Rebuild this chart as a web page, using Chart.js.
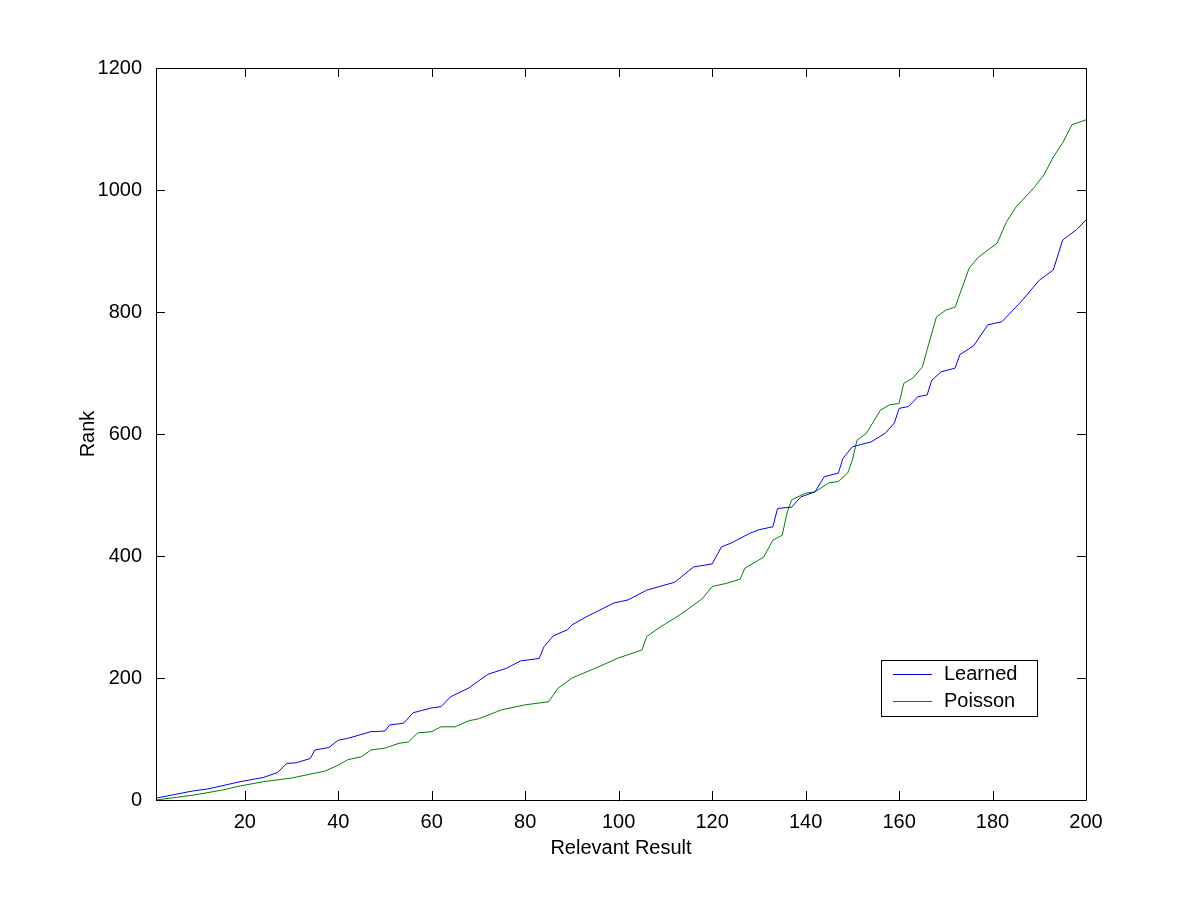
<!DOCTYPE html>
<html>
<head>
<meta charset="utf-8">
<script src="https://cdn.jsdelivr.net/npm/chart.js@4"></script>
<style>
  html, body { margin: 0; padding: 0; background: #fff; }
  #wrap { width: 1200px; height: 900px; }
</style>
</head>
<body>
<div id="wrap"><canvas id="chart" width="1200" height="900"></canvas></div>
<script>
// Values
const seriesNames = ['Learned', 'Poisson'];
const learnedX = [1, 9, 12, 19, 24, 27, 29, 31, 34, 35, 38, 40, 42, 47, 50, 51, 54, 56, 60, 62, 64, 68, 72, 76, 79, 83, 84, 86, 89, 90, 93, 99, 102, 106, 112, 116, 120, 122, 124, 128, 130, 133, 134, 137, 139, 142, 144, 147, 148, 150, 154, 157, 159, 160, 162, 164, 166, 167, 169, 172, 173, 176, 179, 182, 186, 190, 193, 195, 198, 200];
const learnedY = [3, 15, 18, 30, 37, 45, 60, 61, 68, 82, 86, 98, 101, 112, 113, 123, 126, 143, 151, 153, 169, 184, 206, 216, 228, 232, 251, 269, 279, 287, 300, 323, 328, 344, 357, 382, 387, 415, 421, 437, 443, 448, 478, 480, 497, 505, 530, 536, 560, 579, 587, 601, 618, 642, 645, 661, 664, 688, 702, 708, 730, 745, 779, 784, 816, 852, 869, 918, 935, 951];
const poissonX = [1, 9, 15, 19, 24, 30, 35, 37, 40, 42, 45, 47, 50, 53, 55, 57, 60, 62, 65, 68, 70, 75, 80, 85, 87, 90, 95, 100, 105, 106, 109, 113, 117, 118, 120, 123, 126, 127, 131, 133, 135, 136, 137, 140, 142, 145, 147, 149, 150, 151, 153, 156, 158, 160, 161, 163, 165, 166, 168, 170, 172, 175, 177, 181, 183, 185, 189, 191, 193, 195, 197, 200];
const poissonY = [0, 8, 16, 23, 30, 36, 44, 47, 57, 66, 71, 82, 85, 93, 95, 110, 112, 120, 120, 130, 133, 148, 156, 161, 183, 200, 216, 233, 246, 268, 284, 303, 325, 331, 350, 355, 362, 380, 398, 426, 434, 470, 492, 503, 505, 520, 522, 536, 557, 590, 601, 639, 648, 650, 683, 692, 710, 738, 792, 803, 808, 872, 890, 913, 948, 972, 1005, 1025, 1054, 1077, 1107, 1115];
const xTicks = [20, 40, 60, 80, 100, 120, 140, 160, 180, 200];
const yTicks = [0, 200, 400, 600, 800, 1000, 1200];

const colors = ['#0000ff', '#008000'];
const FONT = 'Arial, "Liberation Sans", sans-serif';

function toPoints(xs, ys) {
    return xs.map((x, i) => ({ x: x, y: ys[i] }));
}

// Box round the axes with inward ticks on all four sides (MATLAB look)
const boxPlugin = {
    id: 'matlabBox',
    afterDraw(chart) {
        const { ctx, chartArea: a, scales } = chart;
        const len = 9;
        ctx.save();
        ctx.strokeStyle = '#000';
        ctx.lineWidth = 1;
        ctx.beginPath();
        ctx.rect(Math.round(a.left) + 0.5, Math.round(a.top) + 0.5,
                 Math.round(a.right - a.left), Math.round(a.bottom - a.top));
        scales.x.ticks.forEach(t => {
            const px = Math.round(scales.x.getPixelForValue(t.value)) + 0.5;
            ctx.moveTo(px, a.bottom); ctx.lineTo(px, a.bottom - len);
            ctx.moveTo(px, a.top); ctx.lineTo(px, a.top + len);
        });
        scales.y.ticks.forEach(t => {
            const py = Math.round(scales.y.getPixelForValue(t.value)) + 0.5;
            ctx.moveTo(a.left, py); ctx.lineTo(a.left + len, py);
            ctx.moveTo(a.right, py); ctx.lineTo(a.right - len, py);
        });
        ctx.stroke();
        ctx.restore();
    }
};

// Legend box drawn inside the plot area, lower right
const legendPlugin = {
    id: 'insideLegend',
    afterDraw(chart) {
        const { ctx } = chart;
        const bx = 881.5, by = 660.5, bw = 156, bh = 56;
        ctx.save();
        ctx.fillStyle = '#fff';
        ctx.fillRect(bx, by, bw, bh);
        ctx.strokeStyle = '#000';
        ctx.lineWidth = 1;
        ctx.strokeRect(bx, by, bw, bh);
        ctx.font = '20px ' + FONT;
        ctx.textBaseline = 'middle';
        chart.data.datasets.forEach((ds, i) => {
            const y = Math.round(674 + i * 26.5) + 0.5;
            ctx.strokeStyle = ds.borderColor;
            ctx.beginPath();
            ctx.moveTo(893, y); ctx.lineTo(932, y);
            ctx.stroke();
            ctx.fillStyle = '#000';
            ctx.fillText(ds.label, 944, y);
        });
        ctx.restore();
    }
};

new Chart(document.getElementById('chart'), {
    type: 'line',
    data: {
        datasets: [
            {
                label: seriesNames[0],
                data: toPoints(learnedX, learnedY),
                borderColor: colors[0],
                borderWidth: 1,
                pointRadius: 0,
                tension: 0
            },
            {
                label: seriesNames[1],
                data: toPoints(poissonX, poissonY),
                borderColor: colors[1],
                borderWidth: 1,
                pointRadius: 0,
                tension: 0
            }
        ]
    },
    options: {
        responsive: false,
        animation: false,
        layout: { padding: { left: 0, top: 68, right: 114, bottom: 0 } },
        plugins: {
            legend: { display: false },
            tooltip: { enabled: false }
        },
        scales: {
            x: {
                type: 'linear',
                min: 1,
                max: 200,
                afterBuildTicks: (scale) => { scale.ticks = xTicks.map(v => ({ value: v })); },
                afterFit: (scale) => { scale.height = 100; },
                grid: { display: false },
                border: { display: false },
                ticks: {
                    color: '#000',
                    font: { family: FONT, size: 20 },
                    padding: 2,
                    maxRotation: 0,
                    autoSkip: false,
                    callback: (v) => String(v)
                },
                title: {
                    display: true,
                    text: 'Relevant Result',
                    color: '#000',
                    font: { family: FONT, size: 20 },
                    padding: { top: 0, bottom: 40 }
                }
            },
            y: {
                min: 0,
                max: 1200,
                afterBuildTicks: (scale) => { scale.ticks = yTicks.map(v => ({ value: v })); },
                afterFit: (scale) => { scale.width = 156; },
                grid: { display: false },
                border: { display: false },
                ticks: {
                    color: '#000',
                    font: { family: FONT, size: 20 },
                    padding: 6,
                    autoSkip: false,
                    callback: (v) => String(v)
                },
                title: {
                    display: true,
                    text: 'Rank',
                    color: '#000',
                    font: { family: FONT, size: 20 },
                    padding: { top: 76, bottom: 0 }
                }
            }
        }
    },
    plugins: [boxPlugin, legendPlugin]
});
</script>
</body>
</html>
